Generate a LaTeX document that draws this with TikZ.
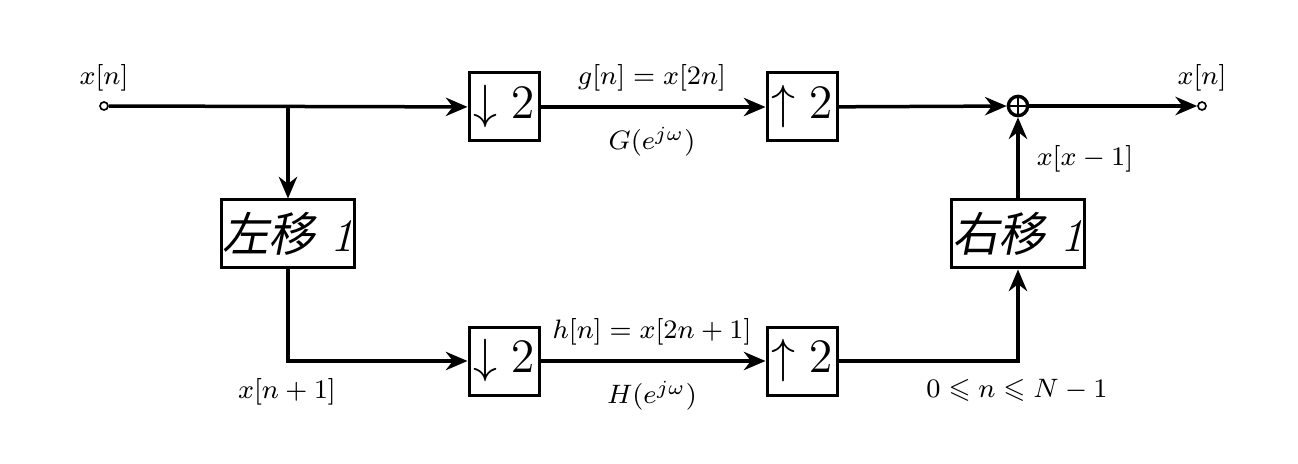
\documentclass[tikz,border=0pt]{standalone}
\usepackage{amsmath,amssymb}
\usepackage{fontspec}
\newfontfamily\cjk[FakeSlant=0.2]{Noto Sans CJK SC}
\usetikzlibrary{arrows.meta}
\begin{document}
\begin{tikzpicture}[x=0.3pt,y=-0.3pt,
  line width=1.05pt,
  sig/.style={-{Stealth[length=6.5pt,width=5.5pt]}},
  sampbox/.style={draw,line width=0.9pt,minimum width=21pt,minimum height=20.4pt,inner sep=0pt,font=\fontsize{15}{17}\selectfont},
  shiftbox/.style={draw,line width=0.9pt,minimum width=40pt,minimum height=20.4pt,inner sep=0pt,font=\fontsize{14}{16}\selectfont},
  lbl/.style={font=\fontsize{8.5}{10}\selectfont,inner sep=1pt},
  port/.style={circle,draw,line width=0.5pt,inner sep=0pt,minimum size=2.4pt},
  sumnode/.style={circle,draw,line width=1pt,inner sep=0pt,minimum size=5.8pt}
]
\useasboundingbox (0,0) rectangle (1298,464);
\node[port] (in) at (104,106) {};
\node[port] (out) at (1202,106) {};
\coordinate (br) at (288,106);
\node[sampbox] (d1) at (504,107) {$\downarrow 2$};
\node[sampbox] (u1) at (802,107) {$\uparrow 2$};
\node[sampbox] (d2) at (504,361) {$\downarrow 2$};
\node[sampbox] (u2) at (802,361) {$\uparrow 2$};
\node[shiftbox] (ls) at (288,234) {{\cjk 左移} \textit{1}};
\node[shiftbox] (rs) at (1018,234) {{\cjk 右移} \textit{1}};
\node[sumnode] (sum) at (1018,106) {};
\draw[line width=0.6pt] (sum.north) -- (sum.south) (sum.west) -- (sum.east);

\draw[sig] (in) -- (d1);
\draw[sig] (br) -- (ls);
\draw[sig] (d1) -- (u1);
\draw[sig] (u1) -- (sum);
\draw[sig] (sum) -- (out);
\draw[sig] (ls) |- (d2);
\draw[sig] (d2) -- (u2);
\draw[sig] (u2) -| (rs);
\draw[sig] (rs) -- (sum);

\node[lbl] at (104,78) {$x[n]$};
\node[lbl] at (1202,78) {$x[n]$};
\node[lbl] at (652,78) {$g[n]=x[2n]$};
\node[lbl] at (652,142) {$G(e^{j\omega})$};
\node[lbl] at (652,332) {$h[n]=x[2n+1]$};
\node[lbl] at (652,396) {$H(e^{j\omega})$};
\node[lbl] at (287,392) {$x[n+1]$};
\node[lbl] at (1017,390) {$0\leqslant n\leqslant N-1$};
\node[lbl] at (1085,159) {$x[x-1]$};
\end{tikzpicture}
\end{document}
